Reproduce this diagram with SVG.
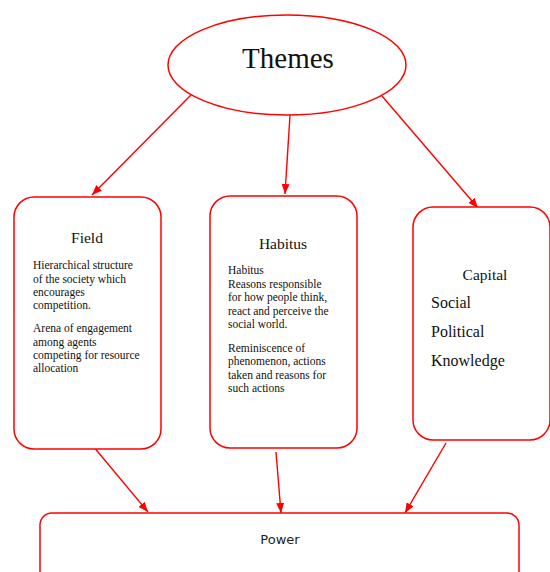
<svg xmlns="http://www.w3.org/2000/svg" width="550" height="572" viewBox="0 0 550 572">
<defs>
<marker id="ah" markerWidth="10" markerHeight="8" refX="10" refY="4" orient="auto" markerUnits="userSpaceOnUse">
<path d="M0,0 L10,4 L0,8 Z" fill="#ff0000"/>
</marker>
<style>
.box{fill:#fff;stroke:#ff0000;stroke-width:1.5}
.con{stroke:#ff0000;stroke-width:1.4;fill:none;marker-end:url(#ah)}
.t{font-family:"Liberation Serif","Times New Roman",serif;fill:#111}
.h{font-size:15.5px;text-anchor:middle}
.b{font-size:11.5px}
.c{font-size:16px}
</style>
</defs>
<rect width="550" height="572" fill="#fff"/>
<g id="connectors">
<line class="con" x1="191" y1="95" x2="92" y2="195"/>
<line class="con" x1="290" y1="115" x2="285" y2="194"/>
<line class="con" x1="382" y1="96" x2="478" y2="208"/>
<line class="con" x1="93" y1="446" x2="148" y2="512"/>
<line class="con" x1="276" y1="452" x2="281" y2="513"/>
<line class="con" x1="446" y1="443" x2="405" y2="513"/>
</g>
<g id="themes">
<ellipse class="box" cx="287" cy="65" rx="119" ry="50"/>
<text class="t" x="288" y="68" font-size="29" text-anchor="middle">Themes</text>
</g>
<g id="field">
<rect class="box" x="14" y="197" width="147" height="252" rx="20"/>
<text class="t h" x="87" y="243" font-size="16">Field</text>
<text class="t b" x="33" y="269">Hierarchical structure</text>
<text class="t b" x="33" y="282.5">of the society which</text>
<text class="t b" x="33" y="296">encourages</text>
<text class="t b" x="33" y="309">competition.</text>
<text class="t b" x="33" y="332">Arena of engagement</text>
<text class="t b" x="33" y="345.5">among agents</text>
<text class="t b" x="33" y="359">competing for resource</text>
<text class="t b" x="33" y="372">allocation</text>
</g>
<g id="habitus">
<rect class="box" x="210" y="196" width="147" height="252" rx="20"/>
<text class="t h" x="283" y="249">Habitus</text>
<text class="t b" x="228" y="274">Habitus</text>
<text class="t b" x="228" y="288">Reasons responsible</text>
<text class="t b" x="228" y="301">for how people think,</text>
<text class="t b" x="228" y="314.5">react and perceive the</text>
<text class="t b" x="228" y="328">social world.</text>
<text class="t b" x="228" y="352">Reminiscence of</text>
<text class="t b" x="228" y="365">phenomenon, actions</text>
<text class="t b" x="228" y="378.5">taken and reasons for</text>
<text class="t b" x="228" y="392">such actions</text>
</g>
<g id="capital">
<rect class="box" x="413" y="207" width="137" height="233" rx="20"/>
<text class="t h" x="485" y="280">Capital</text>
<text class="t c" x="431" y="308">Social</text>
<text class="t c" x="431" y="337">Political</text>
<text class="t c" x="431" y="366">Knowledge</text>
</g>
<g id="power">
<rect class="box" x="40" y="513" width="479" height="80" rx="12"/>
<text x="280" y="544" font-family="'DejaVu Sans',sans-serif" font-size="13" text-anchor="middle" fill="#222">Power</text>
</g>
</svg>
